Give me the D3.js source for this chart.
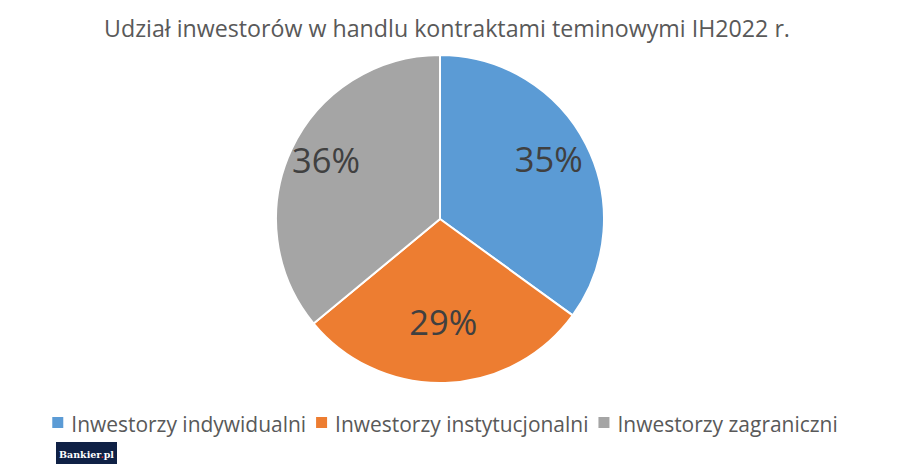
<!DOCTYPE html>
<html><head><meta charset="utf-8">
<script src="https://cdn.jsdelivr.net/npm/d3@7"></script>
<style>body{margin:0;background:#fff}svg{display:block}</style>
</head><body>
<svg id="c" width="902" height="474"></svg>
<script>
const title = "Udział inwestorów w handlu kontraktami teminowymi IH2022 r.";
const categories = ["Inwestorzy indywidualni", "Inwestorzy instytucjonalni", "Inwestorzy zagraniczni"];
const values = [35, 29, 36];
const colors = ["#5B9BD5", "#ED7D31", "#A5A5A5"];
const FONT = "'Open Sans', 'Noto Sans', sans-serif";

const svg = d3.select("#c");
const W = 902, H = 474;
svg.append("rect").attr("width", W).attr("height", H).attr("fill", "#fff");

function fit(sel, target) {
  const n = sel.node();
  const fs = parseFloat(sel.attr("font-size"));
  const w = n.getComputedTextLength();
  sel.attr("font-size", (fs * target / w).toFixed(2));
  return fs * target / w;
}

const t = svg.append("text").attr("x", 447).attr("y", 37).attr("text-anchor", "middle")
  .attr("font-family", FONT).attr("font-size", 22).attr("fill", "#595959").text(title);
fit(t, 686);

const cx = 440, cy = 219, R = 164;
const pie = d3.pie().sort(null).value(d => d)(values);
const arc = d3.arc().innerRadius(0).outerRadius(R);
const g = svg.append("g").attr("transform", `translate(${cx},${cy})`);
g.selectAll("path").data(pie).join("path")
  .attr("d", arc).attr("fill", (d, i) => colors[i])
  .attr("stroke", "#fff").attr("stroke-width", 2).attr("stroke-linejoin", "round");

// label placement (Excel "best fit")
const labelR = [122, 104, 126];
const labelDy = [-4, 0, -5];
g.selectAll("text.lbl").data(pie).join("text").attr("class", "lbl")
  .attr("transform", (d, i) => {
    const c = d3.arc().innerRadius(labelR[i]).outerRadius(labelR[i]).centroid(d);
    return `translate(${c[0]},${c[1] + labelDy[i]})`;
  })
  .attr("text-anchor", "middle").attr("dy", "0.36em")
  .attr("font-family", FONT).attr("font-size", 34).attr("fill", "#404040")
  .text(d => d.data + "%")
  .each(function () { fit(d3.select(this), 68); });

// legend
const lg = svg.append("g");
const probe = lg.append("text").attr("font-family", FONT).attr("font-size", 18).text(categories[0]);
const lfs = fit(probe, 235);
probe.remove();
const items = categories.map((c, i) => {
  const gi = lg.append("g");
  gi.append("rect").attr("x", 0).attr("y", -15).attr("width", 11).attr("height", 11).attr("fill", colors[i]);
  const tx = gi.append("text").attr("x", 19).attr("y", 0)
    .attr("font-family", FONT).attr("font-size", lfs).attr("fill", "#595959").text(c);
  return { gi, w: 19 + tx.node().getComputedTextLength() };
});
const gap = 10;
const total = d3.sum(items, d => d.w) + gap * (items.length - 1);
let x = 445 - total / 2;
items.forEach(it => { it.gi.attr("transform", `translate(${x},432)`); x += it.w + gap; });

// logo
const logo = svg.append("g");
logo.append("rect").attr("x", 56).attr("y", 442).attr("width", 61).attr("height", 22).attr("fill", "#0f2145");
const lt = logo.append("text").attr("x", 86.5).attr("y", 457.5).attr("text-anchor", "middle")
  .attr("font-family", "'DejaVu Serif', 'Liberation Serif', serif").attr("font-weight", "bold")
  .attr("font-size", 11).attr("fill", "#fff");
lt.append("tspan").text("Bankier");
lt.append("tspan").attr("fill", "#e0312f").text(".");
lt.append("tspan").text("pl");
fit(lt, 55);
</script>
</body></html>
